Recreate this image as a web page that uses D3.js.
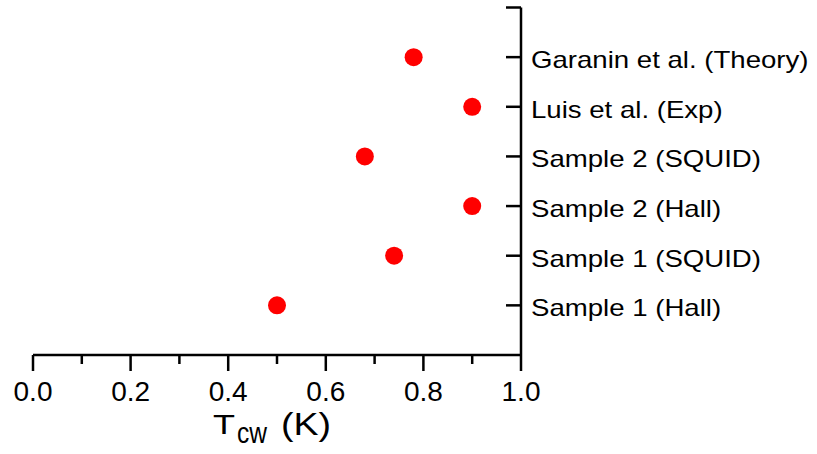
<!DOCTYPE html>
<html>
<head>
<meta charset="utf-8">
<script src="https://cdn.jsdelivr.net/npm/d3@7"></script>
<style>
  body { margin: 0; background: #fff; }
  text { font-family: "Liberation Sans", Arial, sans-serif; fill: #000; }
</style>
</head>
<body>
<svg width="817" height="454"></svg>
<script>
// data, bottom to top
var categories = ["Sample 1 (Hall)", "Sample 1 (SQUID)", "Sample 2 (Hall)",
                  "Sample 2 (SQUID)", "Luis et al. (Exp)", "Garanin et al. (Theory)"];
var tcw = [0.50, 0.74, 0.90, 0.68, 0.90, 0.78];
var xTicks = [0, 0.2, 0.4, 0.6, 0.8, 1.0];

var svg = d3.select("svg");

var x = d3.scaleLinear().domain([0, 1]).range([33, 521]);
var y = d3.scaleLinear().domain([0, 7]).range([355, 7.5]);

// bottom axis
var xAxis = svg.append("g").attr("transform", "translate(0," + y(0) + ")");
xAxis.append("line")
    .attr("x1", x(0)).attr("x2", x(1))
    .attr("stroke", "#000").attr("stroke-width", 2.5);
xAxis.selectAll(".minor")
    .data(d3.range(1, 10, 2).map(function(i) { return i / 10; }))
    .enter().append("line")
    .attr("x1", function(d) { return x(d); }).attr("x2", function(d) { return x(d); })
    .attr("y1", 0).attr("y2", 9)
    .attr("stroke", "#000").attr("stroke-width", 2.5);
xAxis.selectAll(".major")
    .data(xTicks)
    .enter().append("line")
    .attr("x1", function(d) { return x(d); }).attr("x2", function(d) { return x(d); })
    .attr("y1", 0).attr("y2", 16)
    .attr("stroke", "#000").attr("stroke-width", 2.5);
xAxis.selectAll("text")
    .data(xTicks)
    .enter().append("text")
    .attr("x", function(d) { return x(d); })
    .attr("y", 46)
    .attr("text-anchor", "middle")
    .attr("font-size", 28)
    .text(d3.format(".1f"));

// axis title, pieces placed one by one
var title = svg.append("g");
title.append("text").attr("x", 213).attr("y", 434).attr("font-size", 28)
    .attr("textLength", 22).attr("lengthAdjust", "spacingAndGlyphs").text("T");
title.append("text").attr("x", 237).attr("y", 443).attr("font-size", 29)
    .attr("textLength", 30).attr("lengthAdjust", "spacingAndGlyphs").text("cw");
title.append("text").attr("x", 281).attr("y", 435).attr("font-size", 31)
    .attr("textLength", 50).attr("lengthAdjust", "spacingAndGlyphs").text("(K)");

// right axis with category labels
var yAxis = svg.append("g").attr("transform", "translate(" + x(1) + ",0)");
yAxis.append("line")
    .attr("y1", y(0)).attr("y2", y(7))
    .attr("stroke", "#000").attr("stroke-width", 2.5);
yAxis.selectAll(".tick")
    .data(d3.range(1, 8))
    .enter().append("line")
    .attr("x1", -15).attr("x2", 0)
    .attr("y1", function(d) { return y(d); }).attr("y2", function(d) { return y(d); })
    .attr("stroke", "#000").attr("stroke-width", 2.5);
yAxis.selectAll("text")
    .data(categories)
    .enter().append("text")
    .attr("transform", function(d, i) {
      return "translate(10," + (y(i + 1) + 11) + ") scale(1.2,1)";
    })
    .attr("font-size", 23)
    .text(function(d) { return d; });

// points
svg.selectAll("circle")
    .data(tcw)
    .enter().append("circle")
    .attr("cx", function(d) { return x(d); })
    .attr("cy", function(d, i) { return y(i + 1); })
    .attr("r", 9)
    .attr("fill", "#ff0000");
</script>
</body>
</html>
